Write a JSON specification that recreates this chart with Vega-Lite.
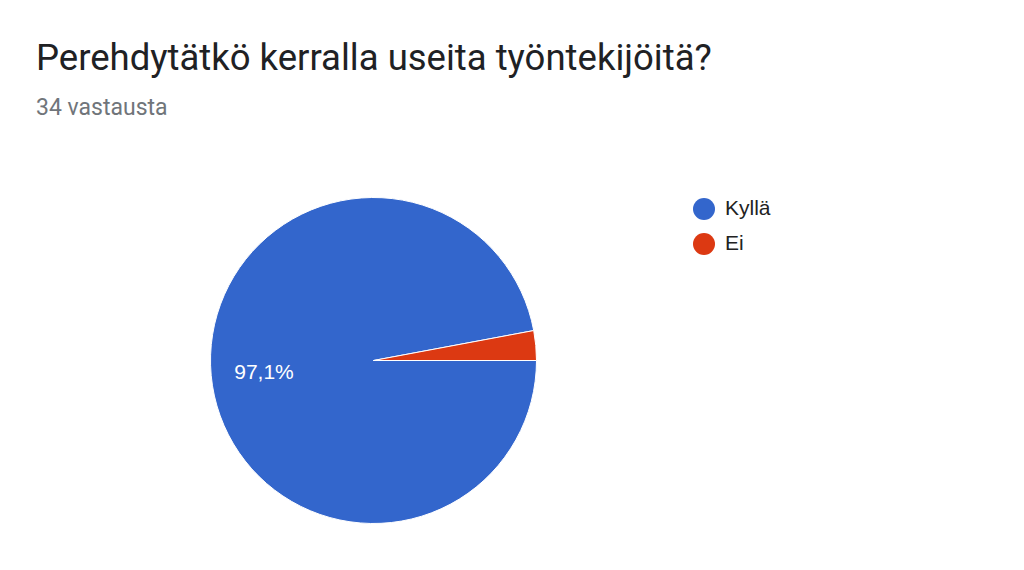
{
  "$schema": "https://vega.github.io/schema/vega-lite/v6.json",
  "autosize": "none",
  "width": 747,
  "height": 461,
  "padding": {"left": 0, "top": 130, "right": 277, "bottom": 0},
  "background": "white",
  "title": {
    "text": "Perehdytätkö kerralla useita työntekijöitä?",
    "subtitle": "34 vastausta",
    "anchor": "start",
    "frame": "group",
    "dx": 36,
    "offset": 10,
    "font": "Roboto",
    "fontSize": 36.5,
    "fontWeight": "normal",
    "color": "#202124",
    "subtitleFont": "Roboto",
    "subtitleFontSize": 23,
    "subtitleColor": "#70757a",
    "subtitlePadding": 20
  },
  "data": {
    "values": [
      {"answer": "Kyllä", "count": 33, "label": "97,1%"},
      {"answer": "Ei", "count": 1, "label": ""}
    ]
  },
  "encoding": {
    "theta": {
      "field": "count",
      "type": "quantitative",
      "stack": true,
      "scale": {"range": [1.5707963, 7.8539816]}
    },
    "order": {"field": "count", "sort": "descending"}
  },
  "layer": [
    {
      "mark": {"type": "arc", "radius": 163, "stroke": "white", "strokeWidth": 1},
      "encoding": {
        "color": {
          "field": "answer",
          "type": "nominal",
          "title": null,
          "sort": ["Kyllä", "Ei"],
          "scale": {"domain": ["Kyllä", "Ei"], "range": ["#3366cc", "#dc3912"]},
          "legend": {
            "orient": "none",
            "legendX": 693,
            "legendY": 68,
            "symbolType": "circle",
            "symbolSize": 484,
            "symbolStrokeWidth": 0,
            "labelFont": "Liberation Sans",
            "labelFontSize": 21,
            "labelColor": "#222222",
            "labelOffset": 10,
            "labelLimit": 300,
            "rowPadding": 13
          }
        }
      }
    },
    {
      "mark": {
        "type": "text",
        "radius": 110,
        "font": "Liberation Sans",
        "fontSize": 21,
        "color": "white",
        "baseline": "middle",
        "align": "center",
        "dy": 2
      },
      "encoding": {
        "text": {"field": "label", "type": "nominal"}
      }
    }
  ]
}
